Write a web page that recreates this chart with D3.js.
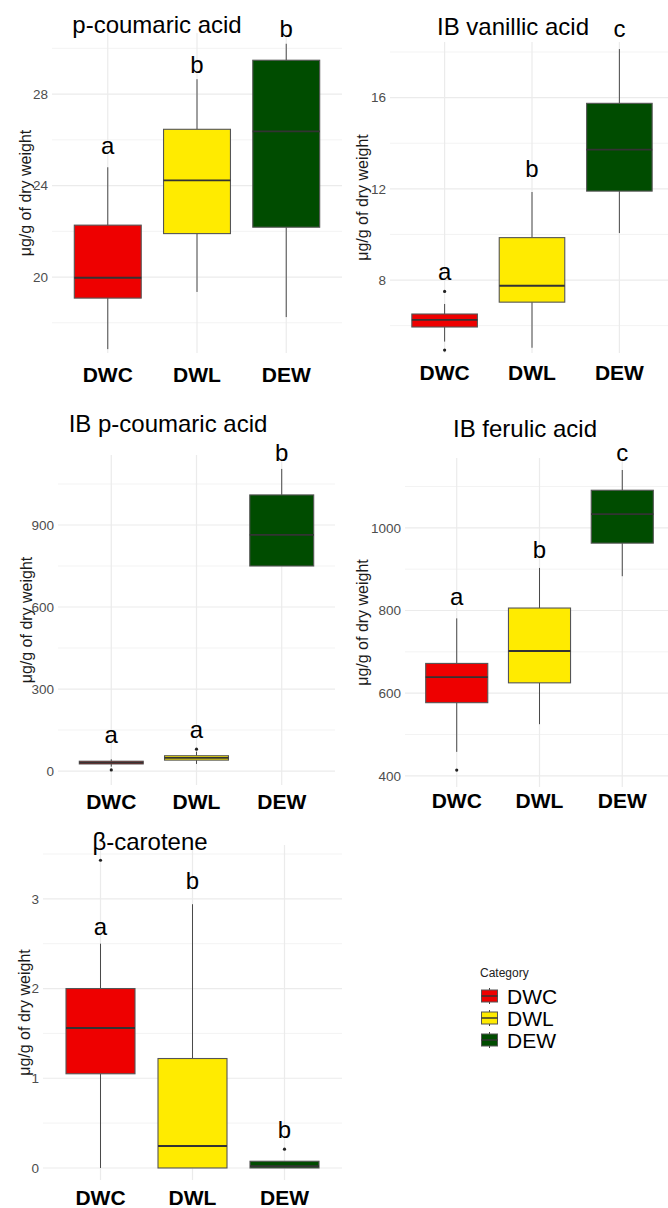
<!DOCTYPE html>
<html><head><meta charset="utf-8">
<script src="https://cdn.jsdelivr.net/npm/d3@7"></script>
<style>body{margin:0;background:#fff} svg{display:block} text{font-family:"Liberation Sans",Arial,sans-serif}</style>
</head><body><svg id="c" width="668" height="1208"></svg>
<script>
// ---------- DATA ----------
const categories = ["DWC", "DWL", "DEW"];
const panelTitles = ["p-coumaric acid", "IB vanillic acid", "IB p-coumaric acid", "IB ferulic acid", "β-carotene"];
const axisTitle = "μg/g of dry weight";
const legendTitle = "Category";

// box stats per category: [lower whisker, Q1, median, Q3, upper whisker]
const pCoumaricBox   = [[16.85, 19.08, 19.97, 22.27, 24.8], [19.35, 21.9, 24.23, 26.46, 28.65], [18.25, 22.18, 26.37, 29.48, 30.2]];
const ibVanillicBox  = [[5.3, 5.94, 6.25, 6.51, 6.95], [5.03, 7.03, 7.75, 9.86, 11.86], [10.06, 11.9, 13.72, 15.75, 18.13]];
const ibPCoumaricBox = [[16, 26, 31, 36, 43], [26, 40, 48, 56, 71], [750, 750, 864, 1010, 1105]];
const ibFerulicBox   = [[458, 577, 639, 672, 781], [525, 625, 702, 806, 903], [883, 963, 1033, 1091, 1140]];
const betaCaroteneBox = [[0, 1.05, 1.56, 2.0, 2.5], [0, 0, 0.245, 1.22, 2.94], [0, 0, 0.02, 0.075, 0.075]];

// outliers
const pCoumaricOut   = [[], [], []];
const ibVanillicOut  = [[7.5, 4.93], [], []];
const ibPCoumaricOut = [[4], [80], []];
const ibFerulicOut   = [[414], [], []];
const betaCaroteneOut = [[3.43], [], [0.21]];

// significance letters and their heights (data units)
const pCoumaricLetters   = ["a", "b", "b"], pCoumaricLetterY   = [25.38, 28.92, 30.49];
const ibVanillicLetters  = ["a", "b", "c"], ibVanillicLetterY  = [8.0, 12.52, 18.66];
const ibPCoumaricLetters = ["a", "a", "b"], ibPCoumaricLetterY = [102, 121, 1134];
const ibFerulicLetters   = ["a", "b", "c"], ibFerulicLetterY   = [814, 927, 1162];
const betaCaroteneLetters = ["a", "b", "b"], betaCaroteneLetterY = [2.60, 3.11, 0.33];

// ticks
const pCoumaricTicks = [20, 24, 28], pCoumaricMinor = [18, 22, 26, 30];
const ibVanillicTicks = [8, 12, 16], ibVanillicMinor = [6, 10, 14, 18];
const ibPCoumaricTicks = [0, 300, 600, 900], ibPCoumaricMinor = [150, 450, 750, 1050];
const ibFerulicTicks = [400, 600, 800, 1000], ibFerulicMinor = [500, 700, 900, 1100];
const betaCaroteneTicks = [0, 1, 2, 3], betaCaroteneMinor = [0.5, 1.5, 2.5, 3.5];

// y limits (data units)
const pCoumaricLim = [16.68, 30.67];
const ibVanillicLim = [4.80, 18.44];
const ibPCoumaricLim = [-51, 1156];
const ibFerulicLim = [373, 1169];
const betaCaroteneLim = [-0.134, 3.6];

// ---------- STYLE / LAYOUT ----------
const fills = ["#EE0000", "#FFEB00", "#004C00"];
const panels = [
  {title: panelTitles[0], box: pCoumaricBox, out: pCoumaricOut, letters: pCoumaricLetters, letterY: pCoumaricLetterY, ticks: pCoumaricTicks, minor: pCoumaricMinor, lim: pCoumaricLim,
   x0: 52, x1: 342, top: 33, bottom: 353, titleX: 157, titleY: 33, axisX: 25, xLabY: 382},
  {title: panelTitles[1], box: ibVanillicBox, out: ibVanillicOut, letters: ibVanillicLetters, letterY: ibVanillicLetterY, ticks: ibVanillicTicks, minor: ibVanillicMinor, lim: ibVanillicLim,
   x0: 390, x1: 674, top: 42, bottom: 353, titleX: 513, titleY: 35, axisX: 362, xLabY: 380},
  {title: panelTitles[2], box: ibPCoumaricBox, out: ibPCoumaricOut, letters: ibPCoumaricLetters, letterY: ibPCoumaricLetterY, ticks: ibPCoumaricTicks, minor: ibPCoumaricMinor, lim: ibPCoumaricLim,
   x0: 58, x1: 335, top: 455, bottom: 785, titleX: 168, titleY: 432, axisX: 26, xLabY: 809},
  {title: panelTitles[3], box: ibFerulicBox, out: ibFerulicOut, letters: ibFerulicLetters, letterY: ibFerulicLetterY, ticks: ibFerulicTicks, minor: ibFerulicMinor, lim: ibFerulicLim,
   x0: 405, x1: 674, top: 458, bottom: 787, titleX: 525, titleY: 437, axisX: 362, xLabY: 808},
  {title: panelTitles[4], box: betaCaroteneBox, out: betaCaroteneOut, letters: betaCaroteneLetters, letterY: betaCaroteneLetterY, ticks: betaCaroteneTicks, minor: betaCaroteneMinor, lim: betaCaroteneLim,
   x0: 43, x1: 342, top: 845, bottom: 1180, titleX: 150, titleY: 850, axisX: 24, xLabY: 1205}
];

const svg = d3.select("#c");

panels.forEach(p => {
  const g = svg.append("g");
  const x = d3.scaleBand().domain(categories).range([p.x0, p.x1]).padding(0.25);
  const y = d3.scaleLinear().domain(p.lim).range([p.bottom, p.top]);
  const cx = c => x(c) + x.bandwidth() / 2;

  // minor grid
  g.selectAll(".mn").data(p.minor).join("line")
    .attr("x1", p.x0).attr("x2", p.x1).attr("y1", d => y(d)).attr("y2", d => y(d))
    .attr("stroke", "#f3f3f3").attr("stroke-width", 1);
  // major grid
  g.selectAll(".mj").data(p.ticks).join("line")
    .attr("x1", p.x0).attr("x2", p.x1).attr("y1", d => y(d)).attr("y2", d => y(d))
    .attr("stroke", "#ebebeb").attr("stroke-width", 1.2);
  g.selectAll(".vg").data(categories).join("line")
    .attr("x1", d => cx(d)).attr("x2", d => cx(d)).attr("y1", p.top).attr("y2", p.bottom)
    .attr("stroke", "#ebebeb").attr("stroke-width", 1.2);

  // y axis via d3 axis (no domain line / tick lines)
  const ax = g.append("g").attr("transform", `translate(${p.x0},0)`)
    .call(d3.axisLeft(y).tickValues(p.ticks).tickFormat(d => String(d)).tickSize(0).tickPadding(4));
  ax.select(".domain").remove();
  ax.selectAll("text").attr("font-size", 13.5).attr("fill", "#4d4d4d")
    .attr("font-family", '"Liberation Sans",Arial,sans-serif');

  // x axis labels
  const xa = g.append("g").attr("transform", `translate(0,${p.xLabY})`)
    .call(d3.axisBottom(x).tickSize(0).tickPadding(0));
  xa.select(".domain").remove();
  xa.selectAll("text").attr("font-size", 21).attr("font-weight", "bold").attr("fill", "#000")
    .attr("dy", 0).attr("y", 0).attr("font-family", '"Liberation Sans",Arial,sans-serif');

  // boxes
  categories.forEach((c, i) => {
    const [lo, q1, med, q3, hi] = p.box[i];
    const xc = cx(c), bw = x.bandwidth();
    g.append("line").attr("x1", xc).attr("x2", xc).attr("y1", y(hi)).attr("y2", y(q3))
      .attr("stroke", "#4a4a4a").attr("stroke-width", 1);
    g.append("line").attr("x1", xc).attr("x2", xc).attr("y1", y(q1)).attr("y2", y(lo))
      .attr("stroke", "#4a4a4a").attr("stroke-width", 1);
    g.append("rect").attr("x", x(c)).attr("width", bw)
      .attr("y", y(q3)).attr("height", Math.max(0.5, y(q1) - y(q3)))
      .attr("fill", fills[i]).attr("stroke", "#555").attr("stroke-width", 1.1);
    g.append("line").attr("x1", x(c)).attr("x2", x(c) + bw).attr("y1", y(med)).attr("y2", y(med))
      .attr("stroke", "#333").attr("stroke-width", 1.8);
    g.selectAll(null).data(p.out[i]).join("circle")
      .attr("cx", xc).attr("cy", d => y(d)).attr("r", 1.6).attr("fill", "#222");
    g.append("text").attr("x", xc).attr("y", y(p.letterY[i])).attr("text-anchor", "middle")
      .attr("font-size", 24).attr("fill", "#000").text(p.letters[i]);
  });

  // title
  g.append("text").attr("x", p.titleX).attr("y", p.titleY).attr("text-anchor", "middle")
    .attr("font-size", 24).attr("fill", "#000").text(p.title);
  // y axis title
  g.append("text").attr("transform", `translate(${p.axisX},${(p.top + p.bottom) / 2}) rotate(-90)`)
    .attr("text-anchor", "middle").attr("dominant-baseline", "central")
    .attr("font-size", 16).attr("fill", "#1a1a1a").text(axisTitle);
});

// legend
const lg = svg.append("g").attr("transform", "translate(480,0)");
lg.append("text").attr("x", 0).attr("y", 977).attr("font-size", 12).attr("fill", "#222").text(legendTitle);
const ly = d3.scalePoint().domain(categories).range([996, 1040]);
categories.forEach((c, i) => {
  const yc = ly(c);
  lg.append("line").attr("x1", 9.5).attr("x2", 9.5).attr("y1", yc - 8).attr("y2", yc + 8)
    .attr("stroke", "#444").attr("stroke-width", 1);
  lg.append("rect").attr("x", 1.5).attr("y", yc - 6).attr("width", 16).attr("height", 12)
    .attr("fill", fills[i]).attr("stroke", "#555").attr("stroke-width", 1);
  lg.append("line").attr("x1", 1.5).attr("x2", 17.5).attr("y1", yc).attr("y2", yc)
    .attr("stroke", "#333").attr("stroke-width", 1.5);
  lg.append("text").attr("x", 27).attr("y", yc + 8).attr("font-size", 21).attr("fill", "#000").text(c);
});
</script></body></html>
